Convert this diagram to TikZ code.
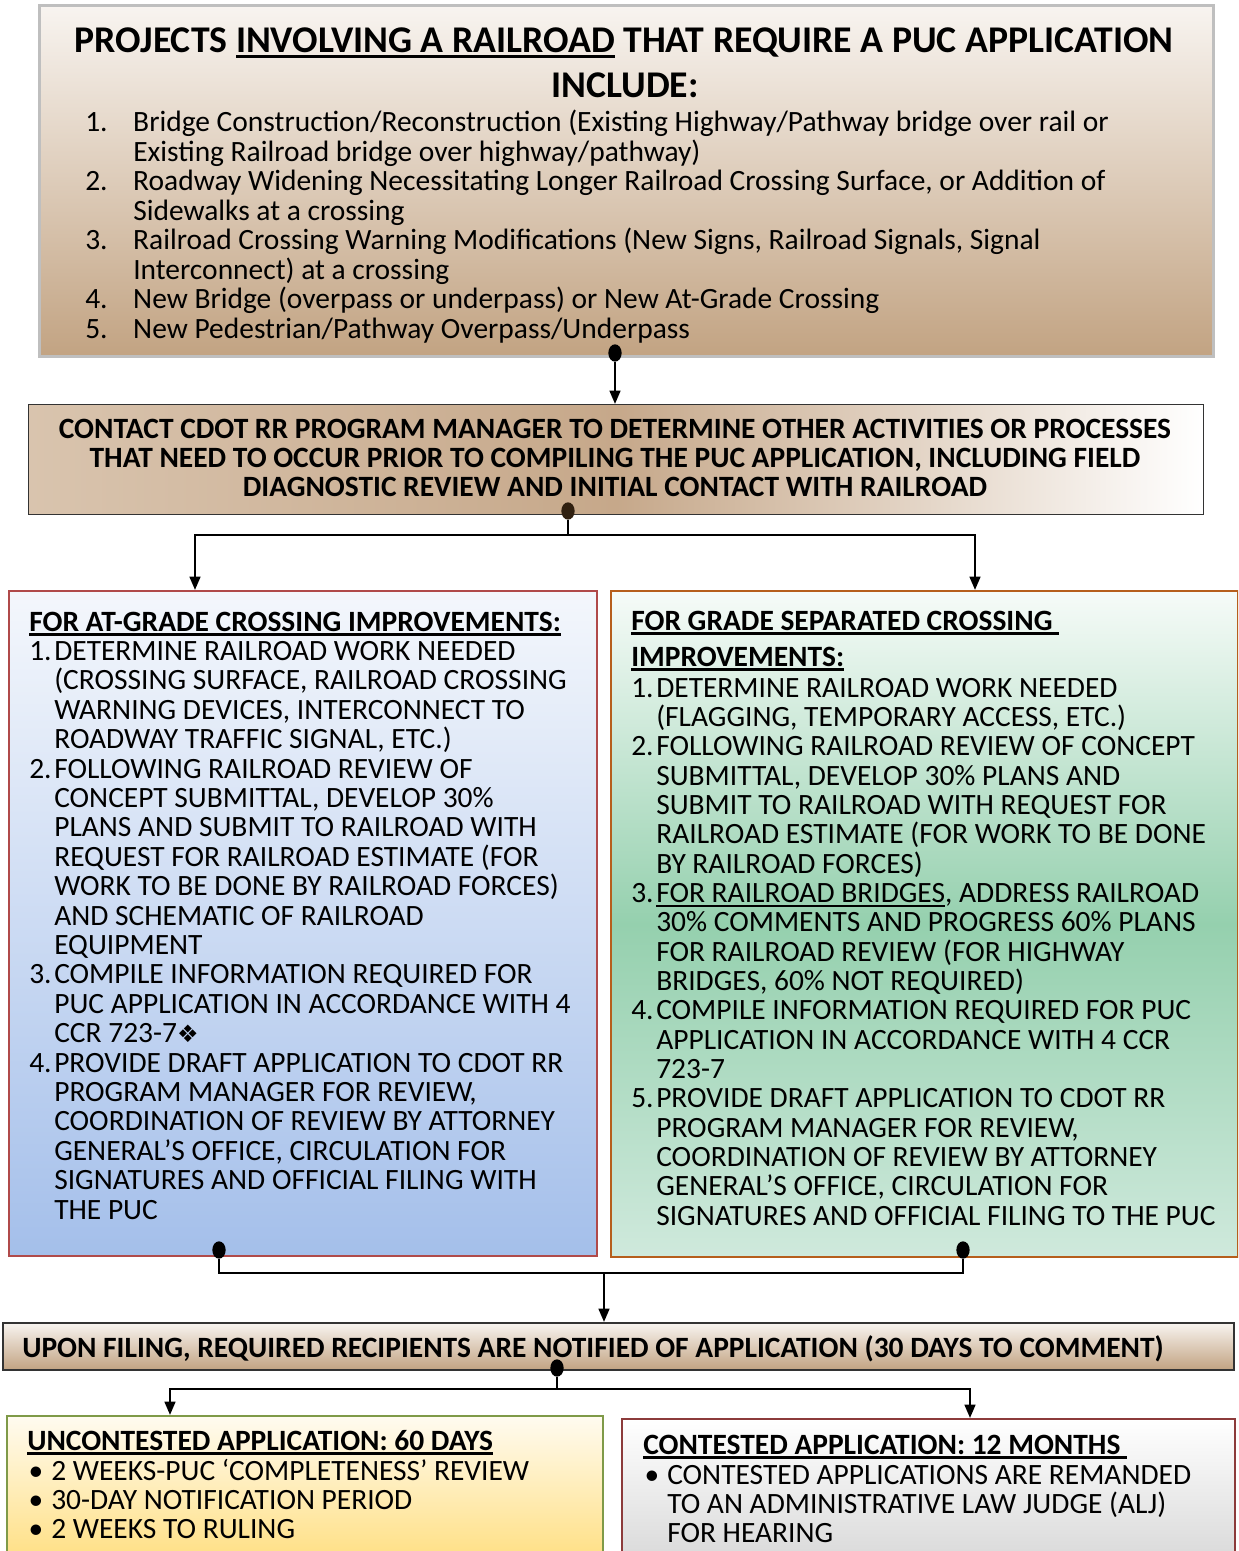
\documentclass[tikz,border=0pt]{standalone}
\usepackage{fontspec}
\setmainfont{Carlito}
\newfontfamily\symfont{DejaVu Sans}
\usetikzlibrary{arrows.meta,shapes.geometric}

% underline with a rule a little below the baseline
\newcommand\uln[1]{\leavevmode\setbox0\hbox{#1}\rlap{\rule[-3.4pt]{\wd0}{1.6pt}}\box0\relax}
% numbered and continued lines with a hanging indent
\newlength\hang
\newcommand\numl[2]{\leavevmode\makebox[\hang][l]{#1}#2}
\newcommand\cont[1]{\leavevmode\hspace*{\hang}#1}

\definecolor{tanTop}{HTML}{F8F4F0}
\definecolor{tanBot}{HTML}{C2A382}
\definecolor{tanMid}{HTML}{C6A88A}
\definecolor{tanLeft}{HTML}{D9C4AE}
\definecolor{blueTop}{HTML}{F4F7FC}
\definecolor{blueBot}{HTML}{A4BFEA}
\definecolor{greenTop}{HTML}{F6FBF8}
\definecolor{greenMid}{HTML}{95D0AE}
\definecolor{greenBot}{HTML}{CFE9DC}
\definecolor{yelTop}{HTML}{FFFBF0}
\definecolor{yelBot}{HTML}{FFD24F}
\definecolor{grayBot}{HTML}{C6C6C6}
\definecolor{redLine}{HTML}{B04A4A}
\definecolor{orangeLine}{HTML}{B65E1C}
\definecolor{oliveLine}{HTML}{7F9A48}
\definecolor{darkRed}{HTML}{8C3B3B}

\tikzset{
  box/.style={rectangle, inner sep=0pt, anchor=north west},
  txt/.style={inner sep=0pt, anchor=base west},
  ctxt/.style={inner sep=0pt, anchor=base},
  dot/.style={ellipse, fill=black, inner sep=0pt, minimum width=10pt, minimum height=13pt},
  wire/.style={line width=1.8pt},
  arr/.style={line width=1.8pt, -{Triangle[length=10pt,width=8pt]}},
  body/.style={font=\fontsize{22.1}{22.05}\selectfont},
  bodyb/.style={font=\fontsize{22.1}{22.05}\bfseries},
}

\begin{document}
\begin{tikzpicture}[x=0.75pt,y=-0.75pt]
\useasboundingbox (0,0) rectangle (1238,1551);
\clip (0,0) rectangle (1238,1551);
\fill[white] (0,0) rectangle (1238,1551);

% ---------- boxes ----------
\node[box, draw=black!25, line width=2.5pt, top color=tanTop, bottom color=tanBot,
      minimum width=880.5pt, minimum height=263.25pt] (projects) at (38,4) {};
\node[box, draw=black!80, line width=1pt, left color=tanLeft, right color=white, middle color=tanMid,
      minimum width=881.25pt, minimum height=82.5pt] (contact) at (28,404) {};
\node[box, draw=redLine, line width=1.6pt, top color=blueTop, bottom color=blueBot,
      minimum width=441pt, minimum height=498.75pt] (atgrade) at (8,590) {};
\node[box, draw=orangeLine, line width=1.6pt, top color=greenTop, bottom color=greenBot, middle color=greenMid,
      minimum width=470.25pt, minimum height=499.5pt] (gradesep) at (610,590) {};
\node[box, draw=black!80, line width=1.2pt, top color=tanTop, bottom color=tanBot,
      minimum width=923.25pt, minimum height=35.25pt] (filing) at (2,1322) {};
\node[box, draw=oliveLine, line width=1.4pt, top color=yelTop, bottom color=yelBot,
      minimum width=447pt, minimum height=160pt] (uncont) at (6,1415) {};
\node[box, draw=darkRed, line width=1.4pt, top color=white, bottom color=grayBot,
      minimum width=459.75pt, minimum height=160pt] (cont) at (621,1418) {};

% ---------- top box text ----------
\node[ctxt, font=\fontsize{28.3}{33}\bfseries] (ptitle) at (624,53)
  {PROJECTS \uln{INVOLVING A RAILROAD} THAT REQUIRE A PUC APPLICATION};
\node[ctxt, font=\fontsize{28.3}{33}\bfseries] (pinclude) at (625,98) {INCLUDE:};
\setlength\hang{36pt}
\node[txt, font=\fontsize{22.1}{22.1}\selectfont] (plist) at (85,132)
  {\parbox[t]{900pt}{\raggedright
   \numl{1.}{Bridge Construction/Reconstruction (Existing Highway/Pathway bridge over rail or}\\
   \cont{Existing Railroad bridge over highway/pathway)}\\
   \numl{2.}{Roadway Widening Necessitating Longer Railroad Crossing Surface, or Addition of}\\
   \cont{Sidewalks at a crossing}\\
   \numl{3.}{Railroad Crossing Warning Modifications (New Signs, Railroad Signals, Signal}\\
   \cont{Interconnect) at a crossing}\\
   \numl{4.}{New Bridge (overpass or underpass) or New At-Grade Crossing}\\
   \numl{5.}{New Pedestrian/Pathway Overpass/Underpass}}};

% ---------- contact box text ----------
\node[txt, anchor=base, font=\fontsize{22.1}{22.1}\bfseries] (ctext) at (615,438)
  {\parbox[t]{880pt}{\centering
   CONTACT CDOT RR PROGRAM MANAGER TO DETERMINE OTHER ACTIVITIES OR PROCESSES\\
   THAT NEED TO OCCUR PRIOR TO COMPILING THE PUC APPLICATION, INCLUDING FIELD\\
   DIAGNOSTIC REVIEW AND INITIAL CONTACT WITH RAILROAD}};

% ---------- at-grade box text ----------
\setlength\hang{18.75pt}
\node[txt, body] (atext) at (29,631)
  {\parbox[t]{440pt}{\raggedright
   \uln{\bfseries FOR AT-GRADE CROSSING IMPROVEMENTS:}\\
   \numl{1.}{DETERMINE RAILROAD WORK NEEDED}\\
   \cont{(CROSSING SURFACE, RAILROAD CROSSING}\\
   \cont{WARNING DEVICES, INTERCONNECT TO}\\
   \cont{ROADWAY TRAFFIC SIGNAL, ETC.)}\\
   \numl{2.}{FOLLOWING RAILROAD REVIEW OF}\\
   \cont{CONCEPT SUBMITTAL, DEVELOP 30\%}\\
   \cont{PLANS AND SUBMIT TO RAILROAD WITH}\\
   \cont{REQUEST FOR RAILROAD ESTIMATE (FOR}\\
   \cont{WORK TO BE DONE BY RAILROAD FORCES)}\\
   \cont{AND SCHEMATIC OF RAILROAD}\\
   \cont{EQUIPMENT}\\
   \numl{3.}{COMPILE INFORMATION REQUIRED FOR}\\
   \cont{PUC APPLICATION IN ACCORDANCE WITH 4}\\
   \cont{CCR 723-7{\symfont\fontsize{18}{18}\selectfont ❖}}\\
   \numl{4.}{PROVIDE DRAFT APPLICATION TO CDOT RR}\\
   \cont{PROGRAM MANAGER FOR REVIEW,}\\
   \cont{COORDINATION OF REVIEW BY ATTORNEY}\\
   \cont{GENERAL’S OFFICE, CIRCULATION FOR}\\
   \cont{SIGNATURES AND OFFICIAL FILING WITH}\\
   \cont{THE PUC}}};

% ---------- grade separated box text ----------
\node[txt, bodyb] (gtitle1) at (631,630)
  {\uln{FOR GRADE SEPARATED CROSSING\ }};
\node[txt, bodyb] (gtitle2) at (631,666)
  {\uln{IMPROVEMENTS:}};
\node[txt, font=\fontsize{22.1}{22.0}\selectfont] (gtext) at (631,697)
  {\parbox[t]{470pt}{\raggedright
   \numl{1.}{DETERMINE RAILROAD WORK NEEDED}\\
   \cont{(FLAGGING, TEMPORARY ACCESS, ETC.)}\\
   \numl{2.}{FOLLOWING RAILROAD REVIEW OF CONCEPT}\\
   \cont{SUBMITTAL, DEVELOP 30\% PLANS AND}\\
   \cont{SUBMIT TO RAILROAD WITH REQUEST FOR}\\
   \cont{RAILROAD ESTIMATE (FOR WORK TO BE DONE}\\
   \cont{BY RAILROAD FORCES)}\\
   \numl{3.}{\uln{FOR RAILROAD BRIDGES}, ADDRESS RAILROAD}\\
   \cont{30\% COMMENTS AND PROGRESS 60\% PLANS}\\
   \cont{FOR RAILROAD REVIEW (FOR HIGHWAY}\\
   \cont{BRIDGES, 60\% NOT REQUIRED)}\\
   \numl{4.}{COMPILE INFORMATION REQUIRED FOR PUC}\\
   \cont{APPLICATION IN ACCORDANCE WITH 4 CCR}\\
   \cont{723-7}\\
   \numl{5.}{PROVIDE DRAFT APPLICATION TO CDOT RR}\\
   \cont{PROGRAM MANAGER FOR REVIEW,}\\
   \cont{COORDINATION OF REVIEW BY ATTORNEY}\\
   \cont{GENERAL’S OFFICE, CIRCULATION FOR}\\
   \cont{SIGNATURES AND OFFICIAL FILING TO THE PUC}}};

% ---------- filing box text ----------
\node[txt, bodyb] (ftext) at (22,1357)
  {UPON FILING, REQUIRED RECIPIENTS ARE NOTIFIED OF APPLICATION (30 DAYS TO COMMENT)};

% ---------- outcome boxes text ----------
\setlength\hang{18pt}
\node[txt, bodyb] (utitle) at (27,1450)
  {\uln{UNCONTESTED APPLICATION: 60 DAYS}};
\node[txt, body] (utext) at (27,1480)
  {\parbox[t]{440pt}{\raggedright
   \numl{\hspace{1pt}•}{2 WEEKS-PUC ‘COMPLETENESS’ REVIEW}\\
   \numl{\hspace{1pt}•}{30-DAY NOTIFICATION PERIOD}\\
   \numl{\hspace{1pt}•}{2 WEEKS TO RULING}}};
\node[txt, bodyb] (ctitle) at (643,1454)
  {\uln{CONTESTED APPLICATION: 12 MONTHS\ }};
\node[txt, body] (ctext2) at (643,1484)
  {\parbox[t]{450pt}{\raggedright
   \numl{\hspace{1pt}•}{CONTESTED APPLICATIONS ARE REMANDED}\\
   \cont{TO AN ADMINISTRATIVE LAW JUDGE (ALJ)}\\
   \cont{FOR HEARING}}};

% ---------- connectors ----------
\node[dot] (d1) at (615,353) {};
\draw[arr] (d1) -- (d1 |- contact.north);

\node[dot, fill=black!75!brown] (d2) at (568,511) {};
\coordinate (j2) at (568,535);
\coordinate (la) at (195,590);
\coordinate (ra) at (975,590);
\draw[wire] (d2) -- (j2);
\draw[arr] (j2) -| (la);
\draw[arr] (j2) -| (ra);

\node[dot] (d3) at (219,1250) {};
\node[dot] (d4) at (963,1250) {};
\coordinate (j3) at (604,1273);
\draw[wire] (d3) |- (j3) -| (d4);
\draw[arr] (j3) -- (j3 |- filing.north);

\node[dot] (d5) at (557,1368) {};
\coordinate (j5) at (557,1389);
\coordinate (ua) at (170,1415);
\coordinate (ca) at (970,1418);
\draw[wire] (d5) -- (j5);
\draw[arr] (j5) -| (ua);
\draw[arr] (j5) -| (ca);
\end{tikzpicture}
\end{document}
